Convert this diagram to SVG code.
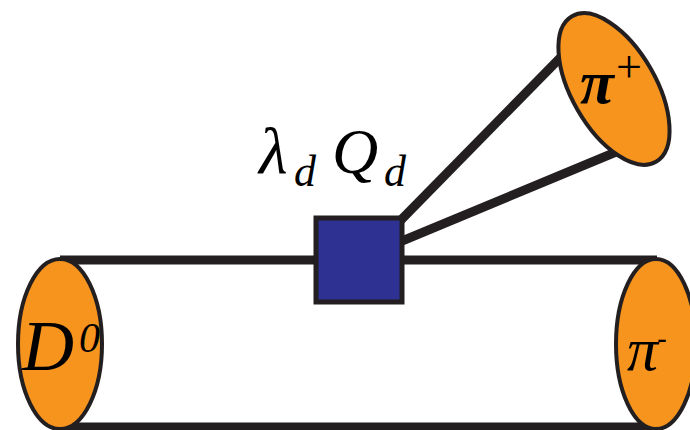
<svg xmlns="http://www.w3.org/2000/svg" width="690" height="430" viewBox="0 0 690 430">
<style>
.ln{stroke:#231f20;stroke-width:9;fill:none;stroke-linecap:butt}
.pt{fill:#f7941d;stroke:#231f20;stroke-width:4}
.t{font-family:"Liberation Serif",serif;font-style:italic;fill:#000}
</style>
<rect width="690" height="430" fill="#fff"/>
<g id="connectors">
<line class="ln" x1="60" y1="260" x2="657" y2="260"/>
<line class="ln" x1="60" y1="427" x2="657" y2="427"/>
<line class="ln" x1="400" y1="221" x2="560" y2="58"/>
<line class="ln" x1="402" y1="241" x2="616" y2="152"/>
</g>
<g id="D0">
<ellipse class="pt" cx="60" cy="344" rx="42" ry="85"/>
<text class="t" x="22" y="370" font-size="72">D</text>
<text class="t" x="79" y="352" font-size="42">0</text>
</g>
<g id="piminus">
<ellipse class="pt" cx="656" cy="344" rx="40" ry="85"/>
<text class="t" x="627" y="370" font-size="62">π</text>
<text x="657" y="349" font-size="30" font-family="Liberation Sans,sans-serif">-</text>
</g>
<g id="piplus">
<ellipse class="pt" cx="614" cy="89" rx="42" ry="84" transform="rotate(-30 614 89)"/>
<text class="t" x="580" y="103" font-size="62" font-weight="bold">π</text>
<text x="616" y="82" font-size="46" font-family="Liberation Serif,serif">+</text>
</g>
<g id="vertex">
<rect x="316" y="218" width="86" height="84" fill="#2e3192" stroke="#231f20" stroke-width="5"/>
<text class="t" x="259" y="173" font-size="66">λ</text>
<text class="t" x="294" y="186" font-size="44">d</text>
<text class="t" x="332" y="173" font-size="64">Q</text>
<text class="t" x="384" y="186" font-size="44">d</text>
</g>
</svg>
